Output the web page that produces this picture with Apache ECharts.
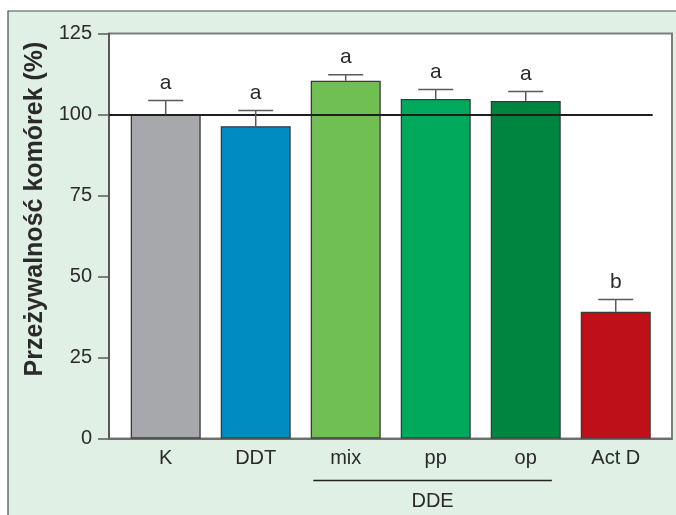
<!DOCTYPE html>
<html>
<head>
<meta charset="utf-8">
<script src="https://cdn.jsdelivr.net/npm/echarts@6/dist/echarts.min.js"></script>
<style>
  html, body { margin: 0; padding: 0; background: #ffffff; }
  #chart { width: 676px; height: 515px; }
</style>
</head>
<body>
<div id="chart"></div>
<script>
// Cell viability per treatment group (mean and upper SD bound, % of control)
const categories = ['K', 'DDT', 'mix', 'pp', 'op', 'Act D'];
const viability = [100, 96.4, 110.4, 104.8, 104.2, 39.1];
const errorTop = [104.3, 101.2, 112.3, 107.7, 107.1, 42.9];
const groupLetters = ['a', 'a', 'a', 'a', 'a', 'b'];
const barColors = ['#a7a8ac', '#008bc1', '#70bf53', '#00a95b', '#008540', '#bd1019'];
const yTicks = [0, 25, 50, 75, 100, 125];
const referenceLevel = 100;
const groupLabel = 'DDE';
const yTitle = 'Przeżywalność komórek (%)';

const FONT = '"Liberation Sans", Arial, Helvetica, sans-serif';
const positions = categories.map((_, i) => i + 1);

const chart = echarts.init(document.getElementById('chart'), null, { renderer: 'canvas' });

const barData = viability.map((v, i) => ({
  value: [positions[i], v],
  itemStyle: { color: barColors[i] }
}));
const errData = viability.map((v, i) => [positions[i], v, errorTop[i], i]);

const option = {
  animation: false,
  backgroundColor: 'transparent',
  textStyle: { fontFamily: FONT },
  grid: {
    left: 109, right: 4, top: 33.5, bottom: 76.5,
    show: true, backgroundColor: '#ffffff',
    borderColor: '#7d7d7d', borderWidth: 2
  },
  xAxis: {
    type: 'value',
    min: 0.37, max: 6.625,
    splitLine: { show: false },
    axisLine: { show: true, onZero: false, lineStyle: { color: '#6e6e6e', width: 2 } },
    axisTick: { show: false },
    axisLabel: {
      customValues: positions,
      formatter: (val) => categories[Math.round(val) - 1] || '',
      color: '#2a2a2a', fontSize: 20, fontFamily: FONT, margin: 10
    }
  },
  yAxis: {
    type: 'value',
    min: yTicks[0], max: yTicks[yTicks.length - 1], interval: 25,
    splitLine: { show: false },
    axisLine: { show: true, lineStyle: { color: '#4d4d4d', width: 1.5 } },
    axisTick: { show: true, length: 11, lineStyle: { color: '#5a5a5a', width: 1.5 } },
    axisLabel: { color: '#2a2a2a', fontSize: 20, fontFamily: FONT, margin: 17 }
  },
  series: [
    {
      type: 'bar',
      data: barData,
      barWidth: 70,
      itemStyle: { borderColor: '#3a3a3a', borderWidth: 1.3 },
      markLine: {
        silent: true,
        symbol: ['none', 'none'],
        label: { show: false },
        lineStyle: { color: '#1e1e1e', width: 2, type: 'solid' },
        data: [[{ coord: [0.37, referenceLevel] }, { coord: [6.41, referenceLevel] }]]
      },
      z: 2
    },
    {
      type: 'custom',
      data: errData,
      z: 5,
      renderItem: function (params, api) {
        const base = api.coord([api.value(0), api.value(1)]);
        const top = api.coord([api.value(0), api.value(2)]);
        const half = 17.5;
        const idx = api.value(3);
        return {
          type: 'group',
          children: [
            {
              type: 'line',
              shape: { x1: base[0], y1: base[1], x2: top[0], y2: top[1] },
              style: { stroke: '#5a5a5a', lineWidth: 1.5 }
            },
            {
              type: 'line',
              shape: { x1: top[0] - half, y1: top[1], x2: top[0] + half, y2: top[1] },
              style: { stroke: '#5a5a5a', lineWidth: 1.5 }
            },
            {
              type: 'text',
              x: top[0], y: top[1] - 7,
              style: {
                text: groupLetters[idx],
                fill: '#2a2a2a', font: '21px ' + FONT,
                align: 'center', verticalAlign: 'bottom'
              }
            }
          ]
        };
      }
    }
  ]
};

chart.setOption(option);

// Outer panel, rotated y title and the bracket grouping the DDE isomers
const p1 = chart.convertToPixel({ gridIndex: 0 }, [positions[2] - 0.36, 0]);
const p2 = chart.convertToPixel({ gridIndex: 0 }, [positions[4] + 0.29, 0]);
chart.setOption({
  graphic: [
    {
      type: 'rect', z: -10, silent: true,
      shape: { x: 8, y: 11, width: 700, height: 540 },
      style: { fill: '#e1f0e5', stroke: '#4a4a4a', lineWidth: 1.2 }
    },
    {
      type: 'text', silent: true,
      x: 35, y: 209, rotation: Math.PI / 2,
      style: {
        text: yTitle, fill: '#2a2a2a',
        font: 'bold 25px ' + FONT,
        align: 'center', verticalAlign: 'middle'
      }
    },
    {
      type: 'line', silent: true,
      shape: { x1: p1[0], y1: 480.5, x2: p2[0], y2: 480.5 },
      style: { stroke: '#222222', lineWidth: 1.5 }
    },
    {
      type: 'text', silent: true,
      x: (p1[0] + p2[0]) / 2, y: 501.5,
      style: {
        text: groupLabel, fill: '#2a2a2a', font: '20px ' + FONT,
        align: 'center', verticalAlign: 'middle'
      }
    }
  ]
});
</script>
</body>
</html>
